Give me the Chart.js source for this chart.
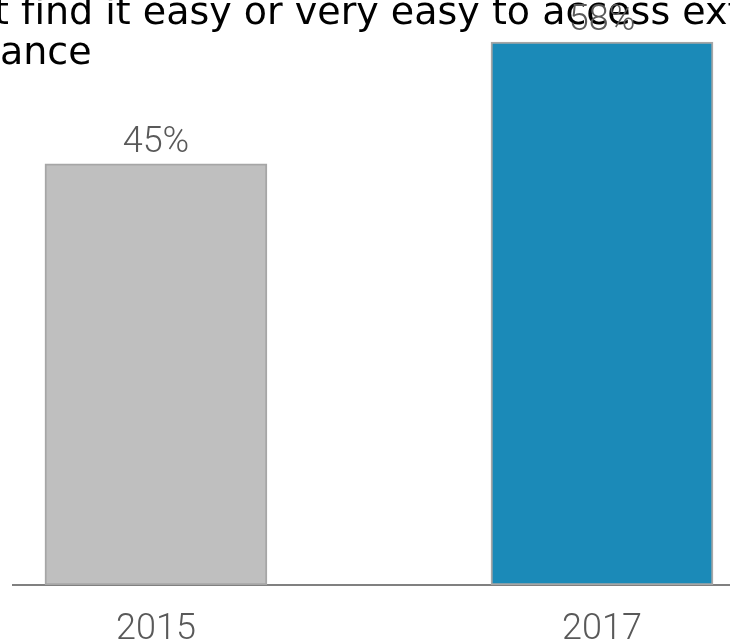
<!DOCTYPE html>
<html>
<head>
<meta charset="utf-8">
<script src="https://cdn.jsdelivr.net/npm/chart.js@4"></script>
<style>
  html, body { margin: 0; padding: 0; background: #fff; overflow: hidden; }
  #wrap { position: relative; width: 730px; height: 644px; }
</style>
</head>
<body>
<div id="wrap"><canvas id="my-chart"></canvas></div>
<script>
// chart values
var years = [2015, 2017];
var shares = [45, 58];
var barColors = ['#BFBFBF', '#1B8AB8'];
// \u200C keeps "fi" from turning into a ligature
var titleLines = ['Proportion of SMEs that f\u200Cind it easy or very easy to access external', 'f\u200Cinance'];

// title is cut off on the left in the original, so draw it shifted
var titleText = {
    id: 'titleText',
    beforeDatasetsDraw: function(chart) {
        var ctx = chart.ctx;
        ctx.save();
        ctx.font = '38px "DejaVu Sans"';
        ctx.fillStyle = '#000000';
        ctx.textBaseline = 'alphabetic';
        ctx.textAlign = 'left';
        var x1 = 9 - ctx.measureText('Proportion of SMEs that').width;
        var x2 = 0 - ctx.measureText('f\u200Cin').width;
        ctx.fillText(titleLines[0], x1, 24);
        ctx.fillText(titleLines[1], x2, 64);
        ctx.restore();
    }
};

// value labels above the bars
var barLabels = {
    id: 'barLabels',
    afterDatasetsDraw: function(chart) {
        var ctx = chart.ctx;
        var meta = chart.getDatasetMeta(0);
        ctx.save();
        ctx.font = '300 36px Roboto';
        ctx.fillStyle = '#595959';
        ctx.textAlign = 'center';
        ctx.textBaseline = 'alphabetic';
        meta.data.forEach(function(bar, i) {
            ctx.fillText(shares[i] + '%', bar.x, bar.y - 12);
        });
        ctx.restore();
    }
};

var ctx = document.getElementById('my-chart').getContext('2d');
var chart = new Chart(ctx, {
    type: 'bar',
    data: {
        datasets: [{
            data: years.map(function(y, i) { return { x: y, y: shares[i] }; }),
            backgroundColor: barColors,
            borderColor: '#A6A6A6',
            borderWidth: 2,
            borderSkipped: false,
            barThickness: 222
        }]
    },
    options: {
        responsive: true,
        maintainAspectRatio: false,
        animation: false,
        layout: { padding: { left: 13, right: 0, top: 0, bottom: 0 } },
        plugins: {
            legend: { display: false },
            tooltip: { enabled: false }
        },
        scales: {
            x: {
                type: 'linear',
                offset: false,
                min: years[0] - 0.641,
                max: years[years.length - 1] + 0.574,
                afterBuildTicks: function(axis) {
                    axis.ticks = years.map(function(y) { return { value: y }; });
                },
                afterFit: function(axis) {
                    axis.height = 59;
                },
                grid: { display: false, drawTicks: false },
                border: { display: true, color: '#808080', width: 2 },
                ticks: {
                    padding: 27,
                    color: '#595959',
                    maxRotation: 0,
                    font: { family: 'Roboto', size: 36, weight: '300', lineHeight: 1 },
                    callback: function(v) { return String(v); }
                }
            },
            y: {
                display: false,
                min: 0,
                max: 62.5
            }
        }
    },
    plugins: [titleText, barLabels]
});
</script>
</body>
</html>
